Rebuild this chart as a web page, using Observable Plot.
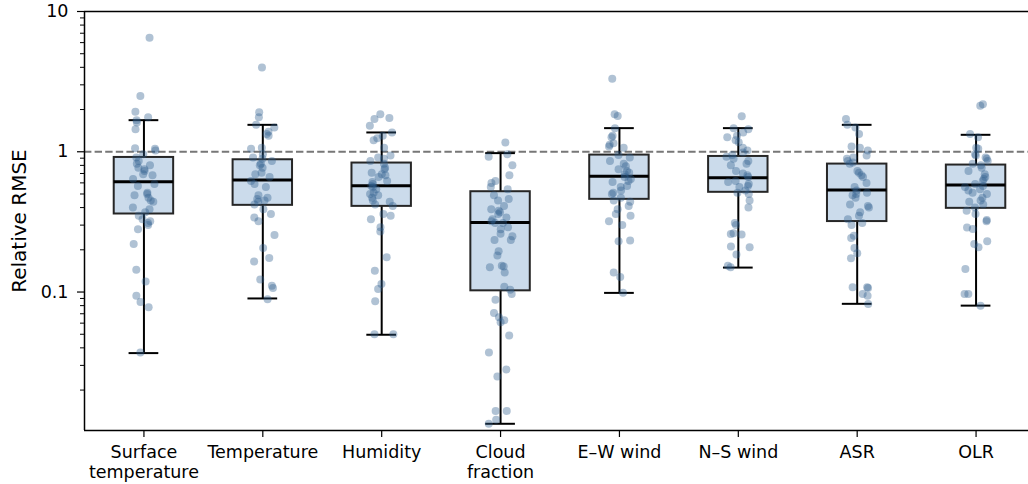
<!DOCTYPE html>
<html>
<head>
<meta charset="utf-8">
<script src="https://cdn.jsdelivr.net/npm/d3@7"></script>
<script src="https://cdn.jsdelivr.net/npm/@observablehq/plot@0.6"></script>
<style>
  html, body { margin: 0; padding: 0; background: #fff; }
</style>
</head>
<body>
<div id="chart"></div>
<script>
// Variables shown along the x axis
const categories = [
  "Surface\ntemperature", "Temperature", "Humidity", "Cloud\nfraction",
  "E–W wind", "N–S wind", "ASR", "OLR"
];

// Relative RMSE of each model run, per variable
const surfaceTemperature = [6.51, 2.50, 1.93, 1.76, 1.68, 1.62, 1.45, 1.06, 1.05, 1.02, 0.96, 0.91, 0.86, 0.82, 0.80, 0.77, 0.75, 0.73, 0.69, 0.68, 0.64, 0.59, 0.57, 0.51, 0.50, 0.49, 0.47, 0.45, 0.44, 0.40, 0.39, 0.37, 0.35, 0.33, 0.32, 0.31, 0.30, 0.28, 0.22, 0.144, 0.119, 0.094, 0.085, 0.078, 0.037];
const temperature = [3.98, 1.91, 1.76, 1.56, 1.49, 1.39, 1.34, 1.30, 1.07, 1.05, 0.96, 0.91, 0.89, 0.86, 0.82, 0.80, 0.77, 0.71, 0.69, 0.66, 0.62, 0.59, 0.56, 0.49, 0.47, 0.46, 0.45, 0.44, 0.42, 0.39, 0.36, 0.34, 0.32, 0.255, 0.206, 0.175, 0.165, 0.123, 0.111, 0.107, 0.089];
const humidity = [1.85, 1.74, 1.71, 1.53, 1.37, 1.30, 1.25, 1.21, 1.07, 0.94, 0.91, 0.89, 0.86, 0.82, 0.77, 0.75, 0.71, 0.69, 0.68, 0.66, 0.62, 0.61, 0.59, 0.57, 0.56, 0.54, 0.51, 0.50, 0.49, 0.47, 0.45, 0.44, 0.42, 0.41, 0.36, 0.35, 0.33, 0.29, 0.27, 0.177, 0.142, 0.114, 0.105, 0.086, 0.050, 0.050];
const cloudFraction = [1.165, 0.96, 0.92, 0.80, 0.68, 0.62, 0.60, 0.56, 0.54, 0.49, 0.46, 0.45, 0.41, 0.39, 0.38, 0.37, 0.36, 0.34, 0.33, 0.32, 0.31, 0.31, 0.29, 0.28, 0.26, 0.25, 0.235, 0.235, 0.195, 0.182, 0.154, 0.152, 0.150, 0.138, 0.109, 0.104, 0.097, 0.088, 0.071, 0.066, 0.063, 0.061, 0.049, 0.037, 0.028, 0.025, 0.0142, 0.0142, 0.0123, 0.0115];
const ewWind = [3.31, 1.85, 1.80, 1.47, 1.30, 1.27, 1.15, 1.12, 1.09, 1.07, 0.95, 0.91, 0.86, 0.82, 0.79, 0.75, 0.73, 0.71, 0.69, 0.66, 0.64, 0.62, 0.61, 0.57, 0.56, 0.53, 0.51, 0.50, 0.47, 0.45, 0.44, 0.41, 0.39, 0.36, 0.35, 0.32, 0.30, 0.233, 0.230, 0.138, 0.128, 0.099];
const nsWind = [1.79, 1.47, 1.45, 1.37, 1.30, 1.27, 1.21, 1.17, 1.07, 1.02, 0.99, 0.95, 0.92, 0.89, 0.86, 0.82, 0.80, 0.73, 0.70, 0.68, 0.66, 0.62, 0.61, 0.59, 0.57, 0.56, 0.53, 0.51, 0.50, 0.45, 0.40, 0.31, 0.30, 0.262, 0.259, 0.257, 0.211, 0.209, 0.185, 0.154, 0.150];
const asr = [1.71, 1.56, 1.49, 1.34, 1.09, 1.07, 1.02, 0.94, 0.91, 0.89, 0.86, 0.84, 0.82, 0.73, 0.71, 0.68, 0.66, 0.60, 0.56, 0.53, 0.51, 0.50, 0.49, 0.47, 0.42, 0.41, 0.40, 0.37, 0.35, 0.33, 0.31, 0.30, 0.252, 0.243, 0.206, 0.189, 0.174, 0.108, 0.108, 0.107, 0.097, 0.094, 0.082];
const olr = [2.18, 2.13, 1.34, 1.27, 1.07, 1.05, 0.96, 0.94, 0.91, 0.89, 0.86, 0.82, 0.80, 0.77, 0.73, 0.69, 0.66, 0.64, 0.62, 0.59, 0.57, 0.56, 0.54, 0.53, 0.51, 0.50, 0.47, 0.45, 0.44, 0.42, 0.40, 0.38, 0.36, 0.326, 0.319, 0.289, 0.282, 0.230, 0.220, 0.209, 0.146, 0.097, 0.097, 0.080];

const series = [surfaceTemperature, temperature, humidity, cloudFraction, ewWind, nsWind, asr, olr];

// Box-plot summary per variable
const q1 = [0.360, 0.415, 0.408, 0.102, 0.458, 0.514, 0.318, 0.395];
const median = [0.612, 0.628, 0.573, 0.3125, 0.668, 0.653, 0.533, 0.579];
const q3 = [0.911, 0.877, 0.831, 0.519, 0.947, 0.926, 0.817, 0.804];
const whiskerLow = [0.0367, 0.090, 0.0496, 0.0115, 0.0986, 0.1494, 0.0824, 0.080];
const whiskerHigh = [1.68, 1.556, 1.373, 0.978, 1.474, 1.474, 1.556, 1.321];

// Axis ticks
const majorTicks = [0.1, 1, 10];
const minorTicks = [0.02, 0.03, 0.04, 0.05, 0.06, 0.07, 0.08, 0.09,
                    0.2, 0.3, 0.4, 0.5, 0.6, 0.7, 0.8, 0.9,
                    2, 3, 4, 5, 6, 7, 8, 9];

const boxes = categories.map((c, i) => ({
  i, q1: q1[i], med: median[i], q3: q3[i], lo: whiskerLow[i], hi: whiskerHigh[i]
}));

// Seeded horizontal jitter so the strip layout is stable between renders
const jitter = d3.randomUniform.source(d3.randomLcg(0.42))(-0.1, 0.1);
const points = series.flatMap((vals, i) => vals.map(v => ({ x: i + jitter(), v })));

const ink = "#000";
const fontFamily = "DejaVu Sans, sans-serif";

const chart = Plot.plot({
  width: 1028,
  height: 484,
  marginLeft: 84,
  marginRight: 0,
  marginTop: 11,
  marginBottom: 54,
  style: { fontFamily, fontSize: "17.5px", color: ink, background: "#fff" },
  x: { type: "linear", domain: [-0.5, 7.5], range: [84, 1035] },
  y: { type: "log", domain: [0.0103, 10] },
  marks: [
    // reference line at RMSE = 1
    Plot.ruleY([1], { stroke: "#777", strokeWidth: 2, strokeDasharray: "7.4,3.2" }),
    // whiskers
    Plot.ruleX(boxes, { x: "i", y1: "lo", y2: "q1", stroke: ink, strokeWidth: 2 }),
    Plot.ruleX(boxes, { x: "i", y1: "q3", y2: "hi", stroke: ink, strokeWidth: 2 }),
    Plot.ruleY(boxes, { y: "lo", x1: d => d.i - 0.125, x2: d => d.i + 0.125, stroke: ink, strokeWidth: 2 }),
    Plot.ruleY(boxes, { y: "hi", x1: d => d.i - 0.125, x2: d => d.i + 0.125, stroke: ink, strokeWidth: 2 }),
    // interquartile boxes
    Plot.rect(boxes, {
      x1: d => d.i - 0.25, x2: d => d.i + 0.25, y1: "q1", y2: "q3",
      fill: "#cbdbeb", stroke: "#262626", strokeWidth: 2
    }),
    // medians
    Plot.ruleY(boxes, { y: "med", x1: d => d.i - 0.25, x2: d => d.i + 0.25, stroke: ink, strokeWidth: 3 }),
    // individual runs
    Plot.dot(points, { x: "x", y: "v", r: 4, fill: "#2f5f8f", fillOpacity: 0.38, stroke: "none" }),
    // spines
    Plot.ruleY([10], { stroke: ink, strokeWidth: 1.5 }),
    Plot.ruleY([0.0103], { stroke: ink, strokeWidth: 1.5 }),
    Plot.ruleX([-0.5], { stroke: ink, strokeWidth: 1.5 }),
    // y axis
    Plot.axisY(minorTicks, { tickSize: 4, tickFormat: () => "", strokeWidth: 1, label: null }),
    Plot.axisY(majorTicks, {
      tickSize: 7, tickPadding: 9, tickFormat: d => String(d), strokeWidth: 1.2,
      fontSize: 17.5, fill: ink, label: null
    }),
    Plot.text(["Relative RMSE"], {
      frameAnchor: "left", text: d => d, rotate: -90, dx: -65,
      fontSize: 20, fill: ink, textAnchor: "middle", lineAnchor: "middle"
    }),
    // x axis
    Plot.axisX(d3.range(categories.length), {
      tickSize: 7, tickPadding: 7, tickFormat: i => categories[i], strokeWidth: 1.2,
      fontSize: 17.5, lineHeight: 1.12, fill: ink, label: null
    })
  ]
});

document.getElementById("chart").append(chart);
</script>
</body>
</html>
